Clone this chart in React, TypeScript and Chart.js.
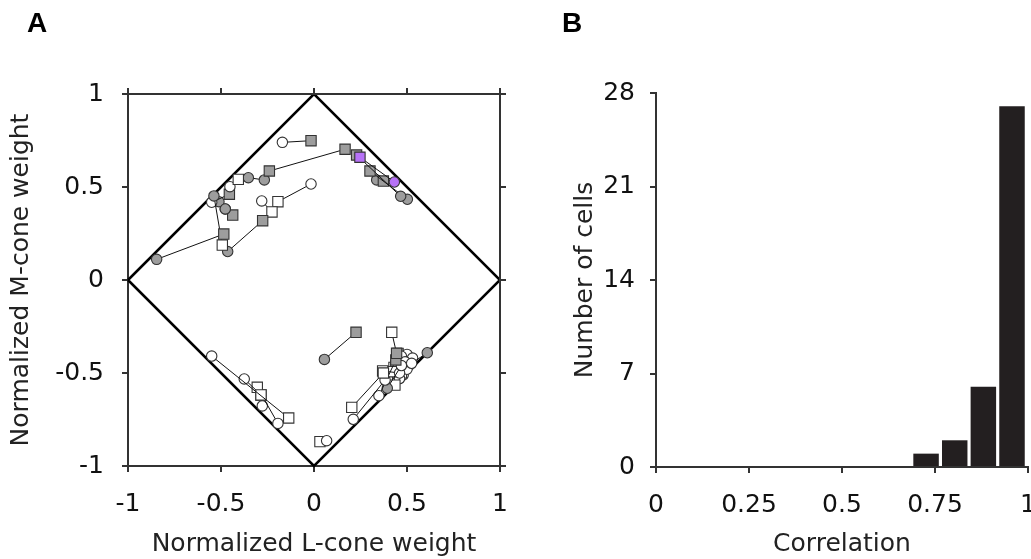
import React, { useEffect, useRef } from "react";
import { Chart, registerables } from "chart.js";
Chart.register(...registerables);

// ---------- Panel A data (pairs of markers joined by a line) ----------
// marker codes: oc open circle, fc filled circle, os open square, fs filled square, pc purple circle, ps purple square
const typeA = ["oc","fs","fc","fc","fc","oc","oc","oc","fc","oc","fc","fs","ps","fs","fs","fc","oc","oc","os","os","os","fc","os","os","oc","oc","fc","fc","os","os","os","fs","os","os","os","oc","oc","oc","oc","oc","oc"];
const lA = [-0.170,-0.240,-0.846,-0.538,-0.464,-0.281,-0.016,-0.452,-0.353,-0.550,-0.511,-0.437,0.247,0.229,0.301,0.337,-0.550,-0.375,-0.305,-0.285,0.032,0.056,0.418,0.203,0.211,0.349,0.394,0.609,0.369,0.418,0.435,0.452,0.440,0.470,0.450,0.500,0.470,0.490,0.440,0.520,0.480];
const mA = [0.740,0.586,0.111,0.452,0.153,0.425,0.516,0.502,0.550,0.418,0.421,0.349,0.660,0.672,0.586,0.538,-0.409,-0.532,-0.577,-0.618,-0.869,-0.427,-0.281,-0.685,-0.749,-0.622,-0.582,-0.391,-0.489,-0.493,-0.565,-0.395,-0.460,-0.470,-0.520,-0.400,-0.420,-0.470,-0.490,-0.430,-0.510];
const typeB = ["fs","fs","fs","os","fs","os","os","os","fc","fs","fc","fc","pc","fc","fc","fs","os","os","oc","oc","oc","fs","fs","os","oc","fs","oc","oc","oc","oc","oc","oc","oc","oc","oc","oc","os","os","fs","os","os"];
const lB = [-0.016,0.167,-0.485,-0.493,-0.276,-0.226,-0.194,-0.407,-0.267,-0.455,-0.477,-0.477,0.432,0.466,0.502,0.373,-0.136,-0.285,-0.194,-0.278,0.068,0.226,0.444,0.373,0.382,0.440,0.470,0.525,0.460,0.490,0.500,0.470,0.480,0.510,0.460,0.530,0.430,0.450,0.460,0.470,0.420];
const mB = [0.749,0.703,0.247,0.188,0.319,0.366,0.421,0.541,0.538,0.461,0.382,0.382,0.527,0.450,0.434,0.532,-0.742,-0.618,-0.771,-0.677,-0.864,-0.281,-0.394,-0.500,-0.538,-0.430,-0.460,-0.448,-0.500,-0.440,-0.480,-0.410,-0.430,-0.460,-0.530,-0.420,-0.470,-0.440,-0.450,-0.500,-0.520];

// diamond outline
const diamondL = [-1, 0, 1, 0, -1];
const diamondM = [0, 1, 0, -1, 0];

const axisTicksA = [-1, -0.5, 0, 0.5, 1];
const axisLabelsA = ["-1", "-0.5", "0", "0.5", "1"];

// ---------- Panel B data (histogram) ----------
const binCenters = [0.726, 0.803, 0.880, 0.957];
const binCounts = [1, 2, 6, 27];
const corrTicks = [0, 0.25, 0.5, 0.75, 1];
const corrLabels = ["0", "0.25", "0.5", "0.75", "1"];
const countTicks = [0, 7, 14, 21, 28];
const countLabels = ["0", "7", "14", "21", "28"];

const FONT = '"DejaVu Sans", sans-serif';
const AXIS = "#333333";
const TEXT = "#111111";

function styleOf(t: string) {
  return t.endsWith("s") ? "rect" : "circle";
}
function radiusOf(t: string) {
  return t.endsWith("s") ? 7.3 : 5.2;
}
function fillOf(t: string) {
  if (t.startsWith("p")) return "#b772f7";
  if (t.startsWith("f")) return "#9d9d9d";
  return "#ffffff";
}

const panelLabel = (text: string, x: number, y: number) => ({
  id: "panelLabel" + text,
  afterDraw(chart: any) {
    const ctx = chart.ctx;
    ctx.save();
    ctx.fillStyle = "#000";
    ctx.font = 'bold 28px "Liberation Sans", Arial, sans-serif';
    ctx.textBaseline = "alphabetic";
    ctx.textAlign = "left";
    ctx.fillText(text, x, y);
    ctx.restore();
  },
});

const frameA = {
  id: "frameA",
  afterDraw(chart: any) {
    const { ctx, chartArea } = chart;
    const xs = chart.scales.x;
    const ys = chart.scales.y;
    ctx.save();
    ctx.strokeStyle = AXIS;
    ctx.lineWidth = 2;
    ctx.beginPath();
    ctx.moveTo(chartArea.left - 1, chartArea.top);
    ctx.lineTo(chartArea.right, chartArea.top);
    ctx.lineTo(chartArea.right, chartArea.bottom + 1);
    axisTicksA.forEach((v) => {
      const px = Math.round(xs.getPixelForValue(v));
      ctx.moveTo(px, chartArea.top);
      ctx.lineTo(px, chartArea.top - 6);
      const py = Math.round(ys.getPixelForValue(v));
      ctx.moveTo(chartArea.right, py);
      ctx.lineTo(chartArea.right + 6, py);
    });
    ctx.stroke();
    ctx.restore();
  },
};

function fixedTicks(values: number[], labels: string[]) {
  return (s: any) => {
    s.ticks = values.map((v, i) => ({ value: v, label: labels[i] }));
  };
}
function labelFrom(values: number[], labels: string[]) {
  return (v: any) => {
    const i = values.findIndex((t) => Math.abs(t - Number(v)) < 1e-9);
    return i >= 0 ? labels[i] : "";
  };
}
const fitX = (h: number) => (s: any) => {
  s.height = h;
  s.paddingLeft = 0;
  s.paddingRight = 0;
  s.paddingTop = 0;
  s.paddingBottom = 0;
};
const fitY = (w: number) => (s: any) => {
  s.width = w;
  s.paddingLeft = 0;
  s.paddingRight = 0;
  s.paddingTop = 0;
  s.paddingBottom = 0;
};

function ScatterPanel() {
  const ref = useRef<HTMLCanvasElement>(null);
  useEffect(() => {
    if (!ref.current) return;
    const pairSets = typeA.map((ta, i) => {
      const tb = typeB[i];
      return {
        data: [
          { x: lA[i], y: mA[i] },
          { x: lB[i], y: mB[i] },
        ],
        showLine: true,
        borderColor: "#111",
        borderWidth: 1,
        pointStyle: [styleOf(ta), styleOf(tb)],
        pointRadius: [radiusOf(ta), radiusOf(tb)],
        pointBackgroundColor: [fillOf(ta), fillOf(tb)],
        pointBorderColor: "#333",
        pointBorderWidth: 1.1,
        clip: false,
      };
    });
    // purple pair on top: datasets earlier in the list are drawn on top
    const ordered = [pairSets[12], ...pairSets.filter((_, i) => i !== 12)];
    const diamond = {
      data: diamondL.map((x, i) => ({ x, y: diamondM[i] })),
      showLine: true,
      borderColor: "#000",
      borderWidth: 2.5,
      pointRadius: 0,
      clip: false,
    };
    const chart = new Chart(ref.current, {
      type: "scatter",
      data: { datasets: [...ordered, diamond] as any },
      options: {
        animation: false,
        responsive: false,
        events: [],
        layout: { padding: { top: 94, right: 30, bottom: 0, left: 0 } },
        plugins: { legend: { display: false }, tooltip: { enabled: false } },
        scales: {
          x: {
            type: "linear",
            min: -1,
            max: 1,
            afterFit: fitX(93),
            afterBuildTicks: fixedTicks(axisTicksA, axisLabelsA),
            grid: { drawOnChartArea: false, drawTicks: true, tickLength: 6, color: AXIS, lineWidth: 2 },
            border: { display: true, color: AXIS, width: 2 },
            ticks: { padding: 17, color: TEXT, font: { family: FONT, size: 25 }, callback: labelFrom(axisTicksA, axisLabelsA) },
            title: {
              display: true,
              text: "Normalized L-cone weight",
              color: "#222",
              font: { family: FONT, size: 25, lineHeight: 1.15 },
              padding: { top: 0, bottom: 0 },
            },
          },
          y: {
            type: "linear",
            min: -1,
            max: 1,
            afterFit: fitY(128),
            afterBuildTicks: fixedTicks(axisTicksA, axisLabelsA),
            grid: { drawOnChartArea: false, drawTicks: true, tickLength: 6, color: AXIS, lineWidth: 2 },
            border: { display: true, color: AXIS, width: 2 },
            ticks: { padding: 18, color: TEXT, font: { family: FONT, size: 25 }, callback: labelFrom(axisTicksA, axisLabelsA) },
            title: {
              display: true,
              text: "Normalized M-cone weight",
              color: "#222",
              font: { family: FONT, size: 25, lineHeight: 1.15 },
              padding: { top: 7, bottom: 0 },
            },
          },
        },
      },
      plugins: [frameA, panelLabel("A", 27, 32)],
    });
    return () => chart.destroy();
  }, []);
  return (
    <canvas
      ref={ref}
      width={530}
      height={559}
      style={{ position: "absolute", left: 0, top: 0, width: 530, height: 559 }}
    />
  );
}

function HistPanel() {
  const ref = useRef<HTMLCanvasElement>(null);
  useEffect(() => {
    if (!ref.current) return;
    const chart = new Chart(ref.current, {
      type: "bar",
      data: {
        datasets: [
          {
            data: binCenters.map((c, i) => ({ x: c, y: binCounts[i] })),
            backgroundColor: "#231f20",
            borderWidth: 0,
            barPercentage: 0.89,
            categoryPercentage: 1,
          },
        ] as any,
      },
      options: {
        animation: false,
        responsive: false,
        events: [],
        layout: { padding: { top: 93, right: 12, bottom: 0, left: 0 } },
        plugins: { legend: { display: false }, tooltip: { enabled: false } },
        scales: {
          x: {
            type: "linear",
            min: 0,
            max: 1,
            offset: false,
            afterFit: fitX(92),
            afterBuildTicks: fixedTicks(corrTicks, corrLabels),
            grid: { drawOnChartArea: false, drawTicks: true, tickLength: 6, color: AXIS, lineWidth: 2, offset: false },
            border: { display: true, color: AXIS, width: 2 },
            ticks: { padding: 17, color: TEXT, font: { family: FONT, size: 25 }, callback: labelFrom(corrTicks, corrLabels) },
            title: {
              display: true,
              text: "Correlation",
              color: "#222",
              font: { family: FONT, size: 25, lineHeight: 1.15 },
              padding: { top: 0, bottom: 0 },
            },
          },
          y: {
            type: "linear",
            min: 0,
            max: 28,
            afterFit: fitY(126),
            afterBuildTicks: fixedTicks(countTicks, countLabels),
            grid: { drawOnChartArea: false, drawTicks: true, tickLength: 6, color: AXIS, lineWidth: 2 },
            border: { display: true, color: AXIS, width: 2 },
            ticks: { padding: 15, color: TEXT, font: { family: FONT, size: 25 }, callback: labelFrom(countTicks, countLabels) },
            title: {
              display: true,
              text: "Number of cells",
              color: "#222",
              font: { family: FONT, size: 25, lineHeight: 1.15 },
              padding: { top: 41, bottom: 0 },
            },
          },
        },
      },
      plugins: [panelLabel("B", 32, 32)],
    });
    return () => chart.destroy();
  }, []);
  return (
    <canvas
      ref={ref}
      width={510}
      height={559}
      style={{ position: "absolute", left: 530, top: 0, width: 510, height: 559 }}
    />
  );
}

export default function App() {
  return (
    <div
      style={{
        position: "fixed",
        left: 0,
        top: 0,
        width: 1031,
        height: 559,
        overflow: "hidden",
        background: "#fff",
      }}
    >
      <ScatterPanel />
      <HistPanel />
    </div>
  );
}
